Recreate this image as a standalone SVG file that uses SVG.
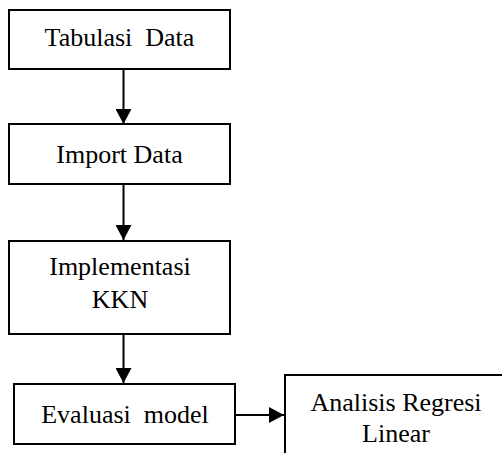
<svg xmlns="http://www.w3.org/2000/svg" width="502" height="453" viewBox="0 0 502 453">
<style>
.box{fill:#fff;stroke:#000;stroke-width:2}
.lbl{font-family:"Liberation Serif","Times New Roman",serif;font-size:26px;fill:#000;text-anchor:middle}
.con{stroke:#000;stroke-width:2;fill:none;marker-end:url(#ah)}
</style>
<defs>
<marker id="ah" viewBox="0 0 15 16" refX="15" refY="8" markerWidth="15" markerHeight="16" markerUnits="userSpaceOnUse" orient="auto">
<path d="M0,0 L15,8 L0,16 z" fill="#000"/>
</marker>
</defs>
<rect width="502" height="453" fill="#fff"/>
<g id="connectors">
<line class="con" x1="123.5" y1="70" x2="123.5" y2="124"/>
<line class="con" x1="123.5" y1="185" x2="123.5" y2="240"/>
<line class="con" x1="123.5" y1="335" x2="123.5" y2="383"/>
<line class="con" x1="236" y1="415" x2="284" y2="415"/>
</g>
<g id="tabulasi">
<rect class="box" x="9" y="10" width="221" height="59"/>
<text class="lbl" x="119.5" y="46" xml:space="preserve">Tabulasi  Data</text>
</g>
<g id="import">
<rect class="box" x="9" y="124" width="221" height="60"/>
<text class="lbl" x="119.5" y="163">Import Data</text>
</g>
<g id="implementasi">
<rect class="box" x="9" y="241" width="221" height="93"/>
<text class="lbl" x="120" y="275">Implementasi</text>
<text class="lbl" x="120" y="307.5">KKN</text>
</g>
<g id="evaluasi">
<rect class="box" x="14" y="384" width="221" height="60"/>
<text class="lbl" x="125" y="423" xml:space="preserve">Evaluasi  model</text>
</g>
<g id="analisis">
<rect class="box" x="285" y="375" width="240" height="100"/>
<text class="lbl" x="396" y="411">Analisis Regresi</text>
<text class="lbl" x="396" y="441.5">Linear</text>
</g>
</svg>
